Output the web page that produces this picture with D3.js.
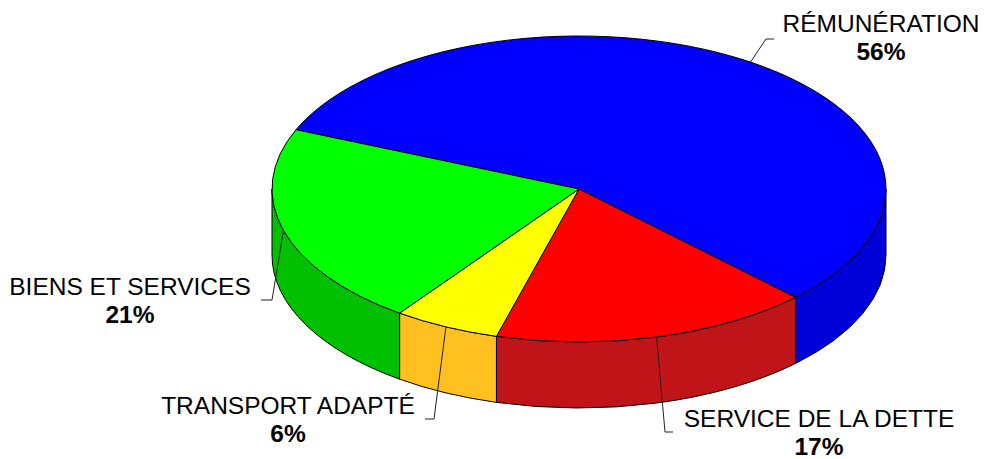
<!DOCTYPE html>
<html>
<head>
<meta charset="utf-8">
<script src="https://cdn.jsdelivr.net/npm/d3@7"></script>
<style>
  html, body { margin: 0; padding: 0; background: #fff; }
  svg { display: block; }
  text { font-family: "Liberation Sans", Arial, sans-serif; fill: #000; }
</style>
</head>
<body>
<svg id="chart" width="986" height="459"></svg>
<script>
// ---- data ----
const categories = ["RÉMUNÉRATION", "SERVICE DE LA DETTE", "TRANSPORT ADAPTÉ", "BIENS ET SERVICES"];
const values = [56.2, 16.8, 5.6, 21.4];
const topColors = ["#0000FF", "#FF0000", "#FFFF00", "#00FF00"];
const sideColors = ["#0000D8", "#C01418", "#FFC020", "#00C000"];

// ---- layout ----
const W = 986, H = 459;
const cx = 579, cy = 189, rx = 307, ry = 153, depth = 66;
const startDeg = 292.8;
// label layout: elbow point, horizontal end, text centre & baseline
const labelLayout = [
  { elbow: [766, 39],  end: [774, 39],  tx: 881, ty: 32 },
  { elbow: [665, 432], end: [673, 432], tx: 819, ty: 427 },
  { elbow: [434, 419], end: [425, 419], tx: 288, ty: 414 },
  { elbow: [272, 300], end: [261, 300], tx: 130, ty: 295 }
];

const svg = d3.select("#chart");
svg.append("rect").attr("width", W).attr("height", H).attr("fill", "#fff");

const data = categories.map((c, i) => ({ name: c, value: values[i], i }));
const total = d3.sum(values);
const pct = d3.format(".0%");

const start = startDeg * Math.PI / 180;
const arcs = d3.pie().sort(null).value(d => d.value)
  .startAngle(start).endAngle(start + 2 * Math.PI)(data);

function pt(a, dy = 0) {
  return [cx + rx * Math.sin(a), cy - ry * Math.cos(a) + dy];
}

// ---- side walls (front half: pie angles PI/2 .. 3PI/2 mod 2PI) ----
const sideG = svg.append("g");
arcs.forEach(d => {
  for (let k = -1; k <= 2; k++) {
    const lo = Math.PI / 2 + 2 * Math.PI * k;
    const hi = 3 * Math.PI / 2 + 2 * Math.PI * k;
    const s = Math.max(d.startAngle, lo);
    const e = Math.min(d.endAngle, hi);
    if (e - s > 1e-6) {
      const a0 = pt(s), a1 = pt(e), b1 = pt(e, depth), b0 = pt(s, depth);
      const path = `M${a0[0]},${a0[1]} A${rx},${ry} 0 0 1 ${a1[0]},${a1[1]} L${b1[0]},${b1[1]} A${rx},${ry} 0 0 0 ${b0[0]},${b0[1]} Z`;
      sideG.append("path")
        .attr("d", path)
        .attr("fill", sideColors[d.data.i])
        .attr("stroke", "#000")
        .attr("stroke-width", 1)
        .attr("stroke-linejoin", "round");
    }
  }
});

// ---- top faces ----
const topG = svg.append("g");
arcs.forEach(d => {
  const a0 = pt(d.startAngle), a1 = pt(d.endAngle);
  const large = (d.endAngle - d.startAngle) > Math.PI ? 1 : 0;
  const path = `M${cx},${cy} L${a0[0]},${a0[1]} A${rx},${ry} 0 ${large} 1 ${a1[0]},${a1[1]} Z`;
  topG.append("path")
    .attr("d", path)
    .attr("fill", topColors[d.data.i])
    .attr("stroke", "#000")
    .attr("stroke-width", 1)
    .attr("stroke-linejoin", "round");
});

// ---- leader lines & labels ----
const labG = svg.append("g");
arcs.forEach(d => {
  const L = labelLayout[d.data.i];
  const mid = (d.startAngle + d.endAngle) / 2;
  const r = pt(mid);
  labG.append("polyline")
    .attr("points", [r, L.elbow, L.end].map(p => p.join(",")).join(" "))
    .attr("fill", "none")
    .attr("stroke", "#222")
    .attr("stroke-width", 1);
  const t = labG.append("text")
    .attr("text-anchor", "middle")
    .attr("font-size", 24.5);
  t.append("tspan").attr("x", L.tx).attr("y", L.ty).text(d.data.name);
  t.append("tspan").attr("x", L.tx).attr("y", L.ty + 28)
    .attr("font-weight", "bold")
    .text(pct(d.data.value / total));
});
</script>
</body>
</html>
